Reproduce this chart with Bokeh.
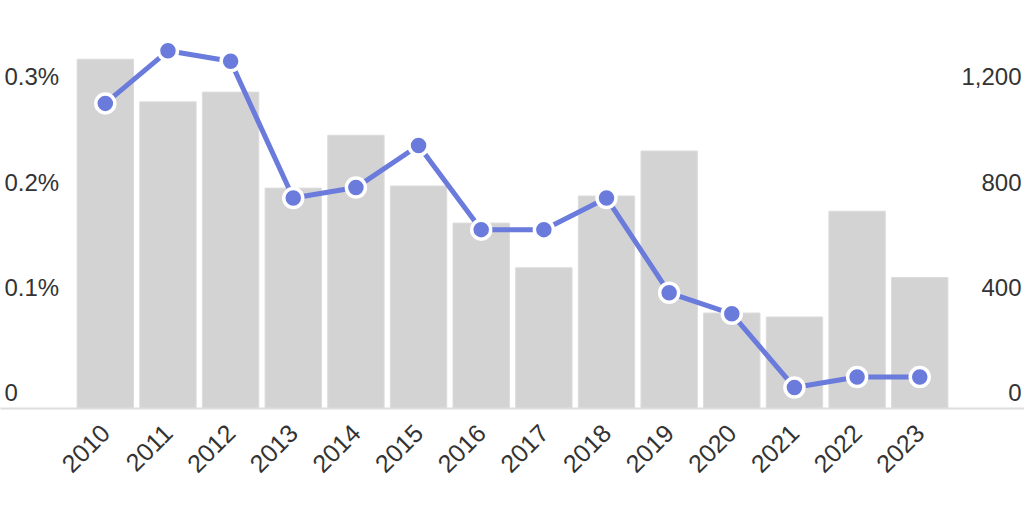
import math
from bokeh.plotting import figure
from bokeh.models import Range1d, FixedTicker, Label
from bokeh.embed import file_html
from bokeh.resources import INLINE

years = ["2010", "2011", "2012", "2013", "2014", "2015", "2016",
         "2017", "2018", "2019", "2020", "2021", "2022", "2023"]
counts = [1328, 1166, 1203, 838, 1039, 846, 705, 535, 808, 979, 363, 348, 750, 498]
rates = [0.29, 0.34, 0.33, 0.20, 0.21, 0.25, 0.17, 0.17, 0.20, 0.11, 0.09, 0.02, 0.03, 0.03]
left_ticks = [0, 0.1, 0.2, 0.3]
left_labels = ["0", "0.1%", "0.2%", "0.3%"]
right_ticks = [0, 400, 800, 1200]
right_labels = ["0", "400", "800", "1,200"]

FONT = "Liberation Sans"
TXT = "#333333"
BLUE = "#6a7bdb"
FS = "24px"

xs = list(range(len(years)))

p = figure(width=1024, height=512, output_backend="svg", toolbar_location=None,
           x_range=Range1d(-1.673, 14.672), y_range=Range1d(0, 0.3878),
           min_border_left=0, min_border_right=0, min_border_top=0, min_border_bottom=104)
p.extra_y_ranges = {"count": Range1d(0, 1551.3)}
p.yaxis.visible = False
p.grid.visible = False
p.outline_line_color = None
p.background_fill_color = "white"

p.vbar(x=xs, top=counts, width=0.9, y_range_name="count",
       fill_color="#d3d3d3", line_color="#dcdcdc", line_width=1)
p.line(xs, rates, line_color=BLUE, line_width=5)
p.scatter(xs, rates, size=19, fill_color=BLUE, line_color="white", line_width=3.5)

ax = p.xaxis[0]
ax.ticker = FixedTicker(ticks=xs)
ax.major_label_overrides = {i: y for i, y in zip(xs, years)}
ax.major_label_orientation = math.pi / 4
ax.major_label_text_font = FONT
ax.major_label_text_font_size = "25px"
ax.major_label_text_color = TXT
ax.major_label_standoff = 14
ax.major_tick_line_color = None
ax.minor_tick_line_color = None
ax.axis_line_color = "#dddddd"
ax.axis_line_width = 2

for t, s in zip(left_ticks, left_labels):
    p.add_layout(Label(x=4, x_units="screen", y=t, y_units="data", text=s,
                       text_align="left", text_baseline="middle", y_offset=16,
                       text_font=FONT, text_font_size=FS, text_color=TXT))
for t, s in zip(right_ticks, right_labels):
    p.add_layout(Label(x=1021, x_units="screen", y=t, y_units="data", y_range_name="count",
                       text=s, text_align="right", text_baseline="middle", y_offset=16,
                       text_font=FONT, text_font_size=FS, text_color=TXT))

open("out.html", "w").write(file_html(p, INLINE))
